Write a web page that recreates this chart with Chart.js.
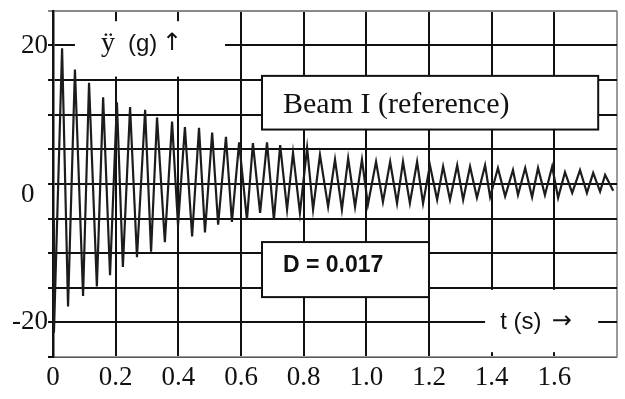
<!DOCTYPE html>
<html>
<head>
<meta charset="utf-8">
<script src="https://cdn.jsdelivr.net/npm/chart.js@4.4.0/dist/chart.umd.min.js"></script>
<style>
  html, body { margin: 0; padding: 0; background: #fff; }
</style>
</head>
<body>
<canvas id="myChart" width="625" height="399"></canvas>
<script>
// extremes of the acceleration trace (t in s, y in g)
const peakTimes = [0.029, 0.070, 0.115, 0.160, 0.204, 0.246, 0.294, 0.332, 0.380, 0.421,
                   0.466, 0.508, 0.552, 0.594, 0.638, 0.683, 0.725, 0.766, 0.811, 0.852,
                   0.900, 0.942, 0.986, 1.031, 1.076, 1.117, 1.162, 1.203, 1.245, 1.290,
                   1.331, 1.379, 1.420, 1.468, 1.507, 1.548, 1.593, 1.634, 1.682, 1.724, 1.762];
const peakValues = [19.6, 16.5, 14.6, 12.5, 11.8, 11.1, 10.7, 9.6, 9.0, 8.2,
                    8.1, 7.4, 6.8, 6.0, 5.9, 6.0, 5.6, 4.5, 5.2, 4.2,
                    3.5, 3.7, 3.5, 3.2, 3.2, 3.2, 3.2, 2.7, 2.5, 2.7,
                    2.5, 2.7, 2.3, 2.0, 2.3, 2.3, 2.5, 1.7, 2.0, 1.6, 1.3];
const troughTimes = [0.003, 0.048, 0.096, 0.140, 0.182, 0.223, 0.268, 0.313, 0.357, 0.399,
                     0.444, 0.485, 0.527, 0.571, 0.619, 0.661, 0.705, 0.747, 0.788, 0.830,
                     0.878, 0.922, 0.964, 1.005, 1.053, 1.098, 1.139, 1.181, 1.226, 1.267,
                     1.309, 1.353, 1.395, 1.443, 1.484, 1.529, 1.570, 1.612, 1.657, 1.704, 1.746];
const troughValues = [-21.5, -17.7, -16.2, -14.8, -13.2, -12.0, -10.6, -9.8, -8.4, -6.0,
                      -7.6, -7.0, -5.9, -5.5, -5.2, -4.2, -5.2, -3.7, -4.2, -3.7,
                      -3.3, -3.7, -3.3, -3.0, -2.6, -2.8, -2.8, -2.8, -2.3, -2.3,
                      -2.3, -2.0, -1.9, -1.8, -1.6, -1.9, -1.6, -2.0, -1.3, -1.3, -1.1];
const startPoint = { x: 0, y: -5 };
const endPoint = { x: 1.788, y: -1.0 };

const xTickValues = [0, 0.2, 0.4, 0.6, 0.8, 1.0, 1.2, 1.4, 1.6];
const xTickLabels = ['0', '0.2', '0.4', '0.6', '0.8', '1.0', '1.2', '1.4', '1.6'];
const yTickValues = [20, 0, -20];
const yTickLabels = ['20', '0', '-20'];

const titleText = 'Beam I (reference)';
const dampingText = 'D = 0.017';

// merge peaks and troughs into one time-ordered trace
const trace = [startPoint];
peakTimes.forEach((t, i) => trace.push({ x: t, y: peakValues[i] }));
troughTimes.forEach((t, i) => trace.push({ x: t, y: troughValues[i] }));
trace.push(endPoint);
trace.sort((a, b) => a.x - b.x);

const near = (a, b) => Math.abs(a - b) < 1e-6;
const SERIF = "'Liberation Serif', 'Times New Roman', serif";
const SANS = "'Liberation Sans', Arial, sans-serif";
const ARROWS = "'DejaVu Sans', sans-serif";

const labelsPlugin = {
  id: 'labels',
  beforeDatasetsDraw(chart) {
    // white patches behind the axis captions, these hide the grid
    const { ctx, scales: { x, y } } = chart;
    ctx.save();
    ctx.fillStyle = '#fff';
    ctx.fillRect(x.getPixelForValue(0.07), y.getPixelForValue(23.5),
      x.getPixelForValue(0.549) - x.getPixelForValue(0.07), y.getPixelForValue(15.5) - y.getPixelForValue(23.5));
    ctx.fillRect(x.getPixelForValue(1.379), y.getPixelForValue(-15.3),
      x.getPixelForValue(1.74) - x.getPixelForValue(1.379), y.getPixelForValue(-24.3) - y.getPixelForValue(-15.3));
    ctx.restore();
  },
  afterDraw(chart) {
    const { ctx, scales: { x, y } } = chart;
    const box = (t0, t1, v0, v1) => {
      const l = x.getPixelForValue(t0), r = x.getPixelForValue(t1);
      const top = y.getPixelForValue(v0), bot = y.getPixelForValue(v1);
      ctx.fillStyle = '#fff';
      ctx.fillRect(l, top, r - l, bot - top);
      ctx.strokeStyle = '#111';
      ctx.lineWidth = 2;
      ctx.strokeRect(l, top, r - l, bot - top);
    };
    ctx.save();
    box(0.667, 1.740, 15.6, 7.85);
    box(0.667, 1.200, -8.4, -16.35);

    ctx.fillStyle = '#111';
    ctx.textBaseline = 'alphabetic';
    ctx.font = '30px ' + SERIF;
    ctx.fillText(titleText, x.getPixelForValue(0.734), y.getPixelForValue(10.3));
    ctx.font = 'bold 23px ' + SANS;
    ctx.fillText(dampingText, x.getPixelForValue(0.734), y.getPixelForValue(-12.75));

    // axis captions
    ctx.font = '28px ' + SERIF;
    ctx.fillText('\u00ff', x.getPixelForValue(0.153), y.getPixelForValue(19.2));
    ctx.font = '24px ' + SANS;
    ctx.fillText('(g)', x.getPixelForValue(0.239), y.getPixelForValue(19.2));
    ctx.font = '24px ' + ARROWS;
    ctx.fillText('\u2191', x.getPixelForValue(0.348), y.getPixelForValue(19.4));
    ctx.font = '24px ' + SANS;
    ctx.fillText('t (s)', x.getPixelForValue(1.427), y.getPixelForValue(-21.0));
    ctx.font = '24px ' + ARROWS;
    ctx.fillText('\u2192', x.getPixelForValue(1.592), y.getPixelForValue(-20.8));
    ctx.restore();
  }
};

new Chart(document.getElementById('myChart'), {
  type: 'line',
  data: {
    datasets: [{
      data: trace,
      borderColor: '#1c1c1c',
      borderWidth: 2.2,
      pointRadius: 0,
      tension: 0,
      fill: false
    }]
  },
  options: {
    responsive: false,
    animation: false,
    devicePixelRatio: 1,
    layout: { padding: { top: 10, right: 8, left: 0, bottom: 0 } },
    plugins: { legend: { display: false }, tooltip: { enabled: false } },
    scales: {
      x: {
        type: 'linear',
        min: 0,
        max: 1.8,
        afterFit: (scale) => { scale.height = 42; },
        ticks: {
          stepSize: 0.2,
          autoSkip: false,
          maxRotation: 0,
          padding: 5,
          color: '#111',
          font: { family: SERIF, size: 27 },
          callback: (v) => {
            const i = xTickValues.findIndex(t => near(t, v));
            return i >= 0 ? xTickLabels[i] : '';
          }
        },
        grid: {
          drawTicks: false,
          lineWidth: 2,
          color: (c) => near(c.tick.value, 1.8) ? '#999' : '#111'
        },
        border: { display: true, color: '#999', width: 1.5 }
      },
      y: {
        min: -25,
        max: 25,
        afterFit: (scale) => { scale.width = 53; },
        ticks: {
          stepSize: 5,
          autoSkip: false,
          padding: 0,
          color: '#111',
          font: { family: SERIF, size: 27, lineHeight: 0.8 },
          callback: (v) => {
            const i = yTickValues.findIndex(t => near(t, v));
            if (i < 0) return '';
            return v === 0 ? ['', yTickLabels[i] + '  '] : yTickLabels[i];
          }
        },
        grid: {
          drawTicks: true,
          tickLength: 5,
          lineWidth: 2,
          color: (c) => near(c.tick.value, 25) ? '#888' : '#111'
        },
        border: { display: true, color: '#111', width: 2.5 }
      }
    }
  },
  plugins: [labelsPlugin]
});
</script>
</body>
</html>
